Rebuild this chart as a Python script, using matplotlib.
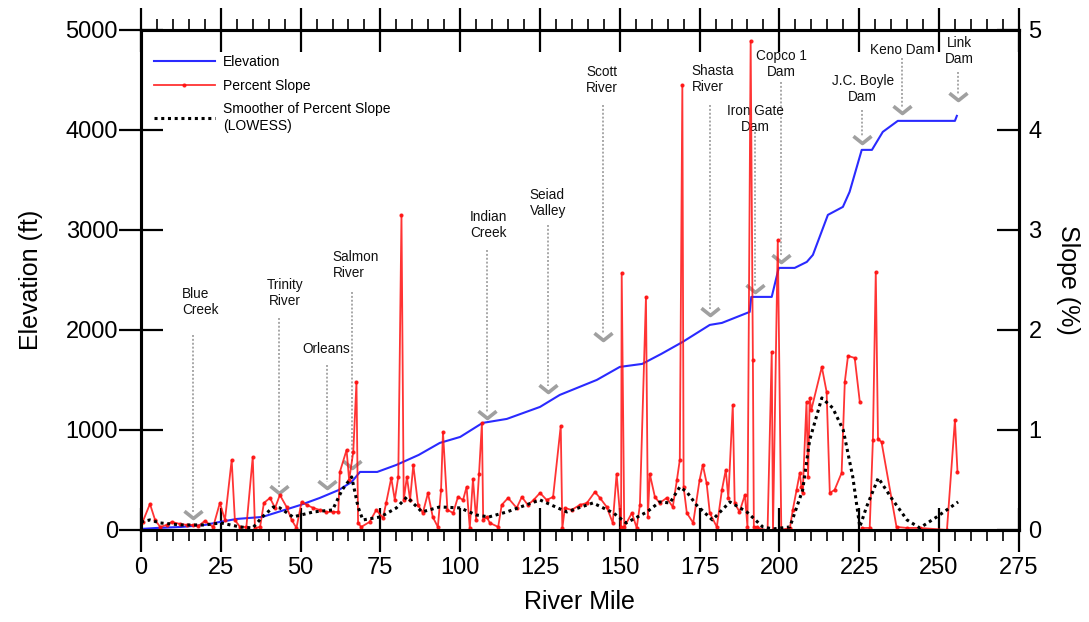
import numpy as np
import matplotlib.pyplot as plt
from matplotlib.path import Path

plt.rcParams['font.family'] = ['Liberation Sans', 'DejaVu Sans']

# elevation profile along the river (mile, ft)
elev_mile = [0, 5, 12.6, 20, 24.7, 30, 38, 44, 50, 56, 62, 66, 68.6, 74, 80, 87,
             93.6, 100, 107, 114.6, 125, 131.2, 142.8, 150, 157, 163, 169.7, 178.2,
             182, 190.7, 191.2, 197.6, 199.8, 204.8, 208.6, 210.5, 215.2, 219.9, 222,
             225.8, 229, 232.4, 237.1, 255, 255.6]
elev_ft = [10, 20, 30, 50, 80, 110, 130, 190, 250, 320, 400, 480, 580, 580, 650, 750,
           870, 930, 1070, 1110, 1230, 1350, 1500, 1630, 1660, 1760, 1880, 2050,
           2070, 2180, 2330, 2330, 2620, 2620, 2680, 2750, 3150, 3230, 3380,
           3800, 3800, 3980, 4090, 4090, 4140]

# percent slope (mile, %)
slope_mile = [0.5, 2.8, 4.4, 6.0, 8.0, 9.6, 12.2, 14.5, 16.4, 18.0, 20.0, 22.6, 24.7,
              26.3, 28.4, 29.4, 31.0, 33.0, 35.0, 35.7, 37.3, 38.5, 40.4, 42.0, 43.5,
              45.6, 47.2, 48.7, 50.3, 51.9, 54.0, 56.0, 58.0, 60.0, 61.8, 62.3, 64.4,
              65.2, 66.5, 67.5, 68.0, 69.0, 71.6, 73.7, 75.8, 76.8, 78.4, 79.5, 80.6,
              81.6, 82.3, 83.3, 84.3, 85.3, 86.8, 88.3, 89.9, 91.4, 93.0, 94.0, 94.6,
              96.0, 97.8, 99.3, 100.9, 102.0, 103.0, 104.0, 105.0, 105.9, 106.8, 107.2,
              108.3, 109.3, 111.9, 113.0, 115.0, 117.7, 119.3, 121.2, 123.0, 125.0,
              127.1, 129.1, 131.5, 132.0, 132.8, 134.9, 137.5, 139.7, 142.2, 143.8,
              145.9, 147.8, 149.0, 150.4, 150.6, 151.4, 153.8, 155.3, 156.3, 158.2,
              158.8, 159.4, 161.0, 162.5, 164.7, 166.6, 167.9, 168.8, 169.6, 170.0,
              171.0, 173.0, 175.0, 176.0, 177.2, 178.2, 180.4, 182.0, 183.2, 184.0,
              185.4, 186.0, 187.5, 189.2, 190.0, 191.0, 191.7, 192.0, 193.0, 195.0, 196.3,
              197.6, 198.0, 199.5, 200.6, 203.3, 204.2, 205.4, 206.4, 206.9, 207.3,
              208.5, 209.0, 209.5, 210.0, 213.3, 214.8, 215.8, 217.3, 219.5, 220.5,
              221.5, 223.6, 225.2, 225.5, 226.0, 228.3, 229.3, 230.2, 230.9, 232.0,
              236.7, 240.0, 244.0, 252.5, 255.0, 255.8]
slope_pct = [0.08, 0.26, 0.10, 0.03, 0.05, 0.08, 0.06, 0.05, 0.05, 0.04, 0.09, 0.03, 0.27,
             0.10, 0.70, 0.10, 0.03, 0.03, 0.73, 0.02, 0.03, 0.27, 0.32, 0.22, 0.35,
             0.23, 0.10, 0.02, 0.28, 0.25, 0.22, 0.20, 0.18, 0.18, 0.18, 0.58, 0.80,
             0.50, 0.78, 1.48, 0.07, 0.03, 0.08, 0.20, 0.12, 0.27, 0.52, 0.30, 0.53,
             3.15, 0.30, 0.53, 0.30, 0.65, 0.25, 0.17, 0.37, 0.13, 0.03, 0.40, 0.98,
             0.20, 0.17, 0.33, 0.30, 0.43, 0.02, 0.51, 0.10, 0.56, 1.07, 0.10,
             0.13, 0.07, 0.03, 0.25, 0.32, 0.22, 0.33, 0.25, 0.30, 0.37,
             0.30, 0.33, 1.04, 0.02, 0.22, 0.20, 0.25, 0.27, 0.38, 0.32,
             0.23, 0.07, 0.56, 0.03, 2.57, 0.03, 0.17, 0.02, 0.25, 2.33,
             0.13, 0.56, 0.33, 0.27, 0.32, 0.23, 0.50, 0.70, 4.45, 0.43,
             0.17, 0.07, 0.50, 0.65, 0.47, 0.17, 0.03, 0.40, 0.60, 0.32,
             1.25, 0.27, 0.18, 0.35, 0.03, 4.89, 1.70, 0.03, 0.03, 0.00, 0.00,
             1.78, 0.00, 2.90, 0.00, 0.02, 0.20, 0.40, 0.57, 0.43, 0.37,
             1.28, 0.53, 1.32, 1.20, 1.63, 1.38, 0.37, 0.40, 0.57, 1.48,
             1.74, 1.72, 1.28, np.nan, 0.02, 0.02, 0.90, 2.58, 0.91, 0.88,
             0.03, 0.02, 0.02, 0.00, 1.10, 0.58]

# LOWESS smoother of percent slope
smooth_mile = [0, 2.8, 6, 12.6, 20, 25, 31, 35, 38, 41.5, 43.5, 47.6, 54, 60, 63, 66, 68,
               69.5, 75, 80, 83.3, 88, 93.6, 100, 105, 109, 114.6, 125, 133.4, 141.6,
               148, 152, 158.5, 162.5, 165.7, 168.8, 171, 174, 179, 184.5, 189.8, 194.8,
               198, 203.3, 207.3, 209.5, 213.3, 216.7, 220, 223, 225.2, 227.3, 231,
               235.5, 240, 244, 249.3, 256]
smooth_pct = [0.08, 0.10, 0.07, 0.05, 0.05, 0.07, 0.03, 0.02, 0.13, 0.23, 0.22, 0.13, 0.18,
              0.20, 0.40, 0.53, 0.23, 0.10, 0.13, 0.22, 0.33, 0.18, 0.23, 0.22, 0.15,
              0.13, 0.18, 0.30, 0.18, 0.27, 0.17, 0.07, 0.18, 0.28, 0.27, 0.43, 0.38,
              0.25, 0.10, 0.28, 0.18, 0.03, 0.01, 0.03, 0.40, 0.90, 1.32, 1.22, 1.00,
              0.53, 0.03, 0.23, 0.52, 0.30, 0.10, 0.02, 0.13, 0.28]

# landmarks: label, arrow mile, arrow tip (ft), dotted line top (ft), text x, text y, alignment
places = [
    ("Blue\nCreek", 16.3, 120, 1950, 12.8, 2430, 'left'),
    ("Trinity\nRiver", 43.2, 370, 2120, 45.1, 2520, 'center'),
    ("Orleans", 58.3, 420, 1650, 57.9, 1880, 'center'),
    ("Salmon\nRiver", 66.1, 620, 2380, 60.1, 2800, 'left'),
    ("Indian\nCreek", 108.4, 1120, 2800, 103.0, 3200, 'left'),
    ("Seiad\nValley", 127.5, 1380, 3050, 121.8, 3420, 'left'),
    ("Scott\nRiver", 144.7, 1900, 4250, 139.4, 4650, 'left'),
    ("Shasta\nRiver", 178.2, 2150, 4250, 172.6, 4660, 'left'),
    ("Iron Gate\nDam", 192.3, 2380, 3980, 192.6, 4260, 'center'),
    ("Copco 1\nDam", 200.4, 2680, 4480, 200.7, 4810, 'center'),
    ("J.C. Boyle\nDam", 225.8, 3870, 4200, 226.1, 4560, 'center'),
    ("Keno Dam", 238.3, 4170, 4720, 238.6, 4870, 'center'),
    ("Link\nDam", 256.0, 4300, 4580, 256.5, 4940, 'center'),
]

fig = plt.figure(figsize=(10.89, 6.22), dpi=100)
ax = fig.add_axes([0.1295, 0.148, 0.806, 0.804])
ax2 = ax.twinx()

ax.plot(elev_mile, elev_ft, color='#2a2aff', lw=1.5, label='Elevation', zorder=3)

chevron = Path([(-1, 0.8), (0, 0), (1, 0.8)], [Path.MOVETO, Path.LINETO, Path.LINETO])
for name, xm, tip, top, tx, ty, al in places:
    ax.plot([xm, xm], [top, tip + 60], color='#a8a8a8', lw=1.4, ls=(0, (1, 1)), zorder=2)
    ax.plot([xm], [tip], marker=chevron, ms=13, mfc='none', mec='#a0a0a0', mew=2.6,
            ls='none', zorder=2)
    ax.text(tx, ty, name, ha=al, va='top', fontsize=9.8, color='#111111',
            linespacing=1.15, multialignment=al)

ax2.plot(slope_mile, slope_pct, color='#ff1010', lw=1.3, marker='.', ms=4, alpha=0.85,
         label='Percent Slope')
ax2.plot(smooth_mile, smooth_pct, color='black', lw=2.2, ls=(0, (1, 1.2)),
         label='Smoother of Percent Slope\n(LOWESS)')

ax.set_xlim(0, 275)
ax.set_ylim(0, 5000)
ax2.set_ylim(0, 5)
ax.set_xticks(np.arange(0, 276, 25))
ax.set_xticks(np.arange(0, 276, 5), minor=True)
ax.set_yticks(np.arange(0, 5001, 1000))
ax2.set_yticks(np.arange(0, 6, 1))

ax.tick_params(axis='x', which='major', direction='inout', length=31, width=1.6,
               labelsize=17, top=True, pad=4)
ax.tick_params(axis='x', which='minor', direction='out', length=8, width=1.2, top=True)
ax.tick_params(axis='y', which='major', direction='inout', length=31, width=1.6,
               labelsize=17, pad=1)
ax2.tick_params(axis='y', direction='in', length=16, width=1.6, labelsize=17, pad=7)

for a in (ax, ax2):
    for s in a.spines.values():
        s.set_linewidth(2.2)

ax.set_xlabel('River Mile', fontsize=18, labelpad=8)
ax.set_ylabel('Elevation (ft)', fontsize=18, labelpad=16)
ax2.set_ylabel('Slope (%)', fontsize=18, rotation=270, labelpad=28)

h1, l1 = ax.get_legend_handles_labels()
h2, l2 = ax2.get_legend_handles_labels()
ax2.legend(h1 + h2, l1 + l2, loc='upper left', bbox_to_anchor=(0.0, 0.975), frameon=False,
           fontsize=10, handlelength=4.4, handletextpad=0.6, labelspacing=0.7)

fig.savefig('out.png', dpi=100)
